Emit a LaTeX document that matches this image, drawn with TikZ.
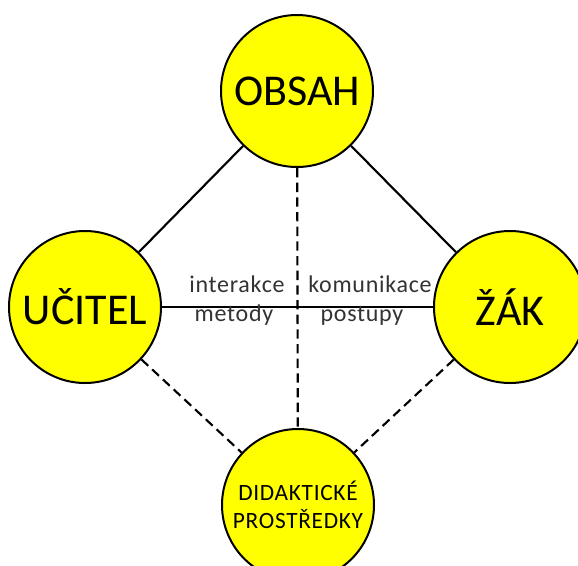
\documentclass[tikz,border=0pt]{standalone}
\usepackage{fontspec}
\setmainfont{Carlito}
\definecolor{bubbleyellow}{RGB}{255,255,0}

\begin{document}
\begin{tikzpicture}[x=0.75pt, y=-0.75pt,
  bubble/.style={circle, draw=black, line width=1.5pt, fill=bubbleyellow, minimum size=114pt, inner sep=0pt, font=\fontsize{33}{36}\selectfont},
  link/.style={line width=1.6pt},
  weak/.style={line width=1.6pt, dash pattern=on 7pt off 4pt},
  lbl/.style={text=black!80, inner sep=0pt, anchor=base, font=\fontsize{18}{20}\selectfont\addfontfeature{LetterSpace=3}}]
\useasboundingbox (0,0) rectangle (578,565);
% the four circles
\node[bubble] (obsah) at (297, 91) {OBSAH};
\node[bubble] (ucitel) at (85, 307) {UČITEL};
\node[bubble] (zak) at (510, 307) {ŽÁK};
\node[bubble, align=center, font=\fontsize{17.5}{21}\selectfont\addfontfeature{LetterSpace=3}] (prostr) at (298, 505) {DIDAKTICKÉ\\PROSTŘEDKY};
% connections
\draw[link] (ucitel) -- (obsah);
\draw[link] (obsah) -- (zak);
\draw[link] (ucitel) -- (zak);
\draw[weak] (obsah) -- (prostr);
\draw[weak] (ucitel) -- (prostr);
\draw[weak] (zak) -- (prostr);
% labels on the middle line
\node[lbl] (interakce) at (237, 292) {interakce};
\node[lbl] (komunikace) at (370, 292) {komunikace};
\node[lbl] (metody) at (234, 321) {metody};
\node[lbl] (postupy) at (362, 321) {postupy};
\end{tikzpicture}
\end{document}
